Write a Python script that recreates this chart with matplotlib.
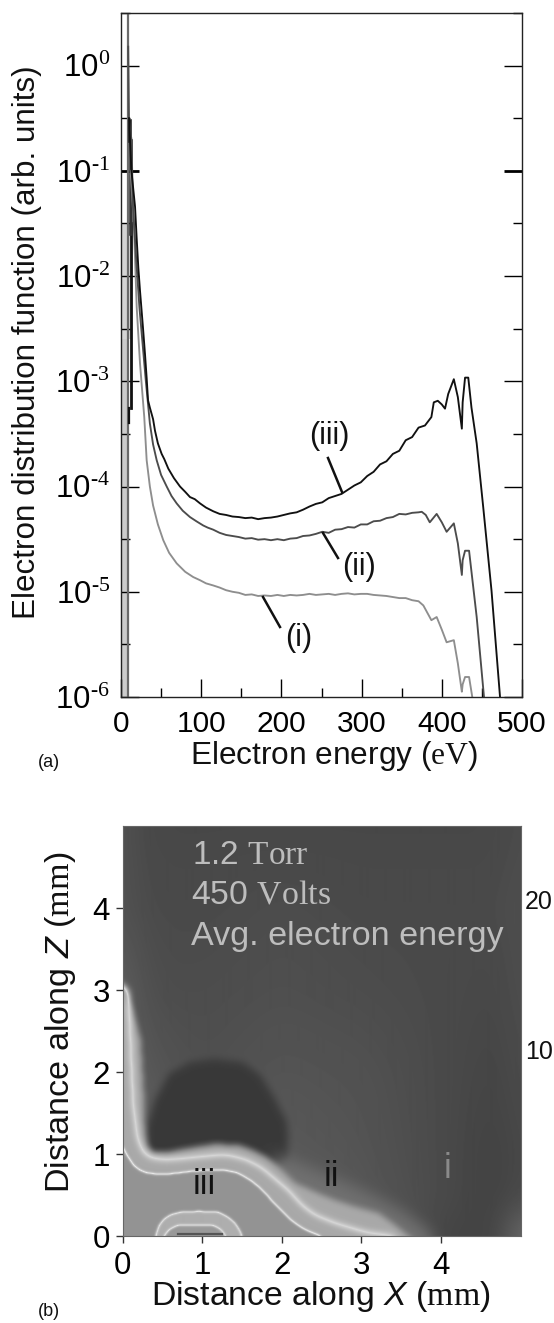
import numpy as np
import matplotlib
matplotlib.use("Agg")
import matplotlib.pyplot as plt
from matplotlib.path import Path
from matplotlib.lines import Line2D

plt.rcParams['font.family'] = ['Liberation Sans', 'DejaVu Sans']
plt.rcParams['mathtext.fontset'] = 'custom'
plt.rcParams['mathtext.rm'] = 'Liberation Serif'
plt.rcParams['mathtext.it'] = 'Liberation Sans:italic'
plt.rcParams['mathtext.sf'] = 'Liberation Sans'

W, H = 554, 1323

# panel (a): electron energy (eV) and log10 of the distribution function
mid_energy = [115, 123, 131, 139, 147, 155, 163, 171, 179, 187, 195, 203, 211, 219, 227, 235, 243, 251,
              259, 267, 275, 283, 291, 299, 307, 315, 323, 331, 339, 347, 355, 363, 371]

iii_head_e = [10, 13, 17.5, 19.6, 21.6, 23.7, 27.4, 30, 32, 33.7, 36, 40, 42.4, 46, 50.7, 54, 59, 66, 73.6,
              80, 86, 92, 98.5, 106]
iii_head_log = [-0.5, -1.0, -1.34, -1.65, -1.92, -2.14, -2.49, -2.75, -2.97, -3.18, -3.25, -3.36, -3.47, -3.59,
                -3.69, -3.74, -3.83, -3.92, -4.0, -4.05, -4.10, -4.12, -4.16, -4.2]
iii_mid_log = [-4.235, -4.26, -4.27, -4.285, -4.29, -4.30, -4.295, -4.31, -4.30, -4.295, -4.285, -4.27,
               -4.255, -4.245, -4.22, -4.19, -4.165, -4.15, -4.11, -4.09, -4.07, -4.03, -3.99, -3.96,
               -3.90, -3.86, -3.79, -3.76, -3.69, -3.66, -3.56, -3.53, -3.44]
iii_tail_e = [379, 387, 390, 395, 400, 404, 408, 415, 420, 425, 426, 429, 433, 437, 443.5, 451.7, 462, 472.6]
iii_tail_log = [-3.42, -3.34, -3.20, -3.185, -3.22, -3.26, -3.12, -2.98, -3.15, -3.45, -3.2, -2.965, -2.965,
                -3.25, -3.59, -4.20, -4.99, -6.0]

ii_head_e = [9, 10, 13, 15, 19, 23, 27, 31, 36, 40, 44.5, 50, 57, 63, 69.4, 77, 86, 94, 102.5, 108]
ii_head_log = [0.18, -0.53, -0.70, -1.35, -1.85, -2.3, -2.65, -3.0, -3.4, -3.6, -3.75, -3.89, -4.0, -4.09,
               -4.16, -4.23, -4.29, -4.33, -4.37, -4.39]
ii_mid_log = [-4.41, -4.44, -4.46, -4.47, -4.48, -4.495, -4.49, -4.505, -4.50, -4.51, -4.50, -4.51, -4.495,
              -4.49, -4.47, -4.465, -4.45, -4.43, -4.44, -4.41, -4.405, -4.385, -4.39, -4.36, -4.36,
              -4.33, -4.325, -4.30, -4.29, -4.26, -4.265, -4.25, -4.245]
ii_tail_e = [375, 380, 385, 393.6, 400, 406, 415, 420, 425, 426, 429, 434, 443.5, 452.6]
ii_tail_log = [-4.24, -4.27, -4.34, -4.26, -4.34, -4.43, -4.35, -4.54, -4.84, -4.7, -4.61, -4.61, -5.24, -6.0]

i_head_e = [12, 16, 19.6, 23.7, 29, 32, 36, 40, 46, 52.7, 60, 69.4, 80, 90, 98.5, 106]
i_head_log = [-1.0, -1.5, -2.3, -2.83, -3.34, -3.75, -4.0, -4.18, -4.36, -4.51, -4.63, -4.73, -4.81, -4.86,
              -4.89, -4.92]
i_mid_log = [-4.94, -4.96, -4.985, -5.00, -5.01, -5.03, -5.025, -5.04, -5.035, -5.04, -5.03, -5.04, -5.03,
             -5.035, -5.03, -5.02, -5.03, -5.025, -5.02, -5.03, -5.02, -5.015, -5.025, -5.02, -5.02,
             -5.03, -5.035, -5.04, -5.05, -5.06, -5.06, -5.08, -5.09]
i_tail_e = [377, 382, 387, 393.6, 400, 406, 415, 420, 425, 426, 429, 434, 438]
i_tail_log = [-5.13, -5.20, -5.27, -5.24, -5.36, -5.48, -5.46, -5.68, -5.95, -5.88, -5.81, -5.81, -6.0]

x_ticks_a = [0, 100, 200, 300, 400, 500]
y_exponents = [0, -1, -2, -3, -4, -5, -6]

# panel (b): region outlines in mm, grey levels 0-1
x_ticks_b = [0, 1, 2, 3, 4]
z_ticks_b = [0, 1, 2, 3, 4]
grid_x = [0.0, 0.15, 0.5, 1.0, 2.0, 3.0, 4.0, 4.6, 4.85, 5.0]
grid_z = [0.0, 0.5, 1.0, 2.0, 3.0, 4.0, 5.0]
grid_grey = [
    [0.50, 0.48, 0.46, 0.46, 0.46, 0.40, 0.27, 0.26, 0.34, 0.46],
    [0.50, 0.44, 0.40, 0.38, 0.40, 0.34, 0.29, 0.26, 0.27, 0.30],
    [0.42, 0.40, 0.36, 0.34, 0.35, 0.33, 0.29, 0.26, 0.27, 0.29],
    [0.38, 0.36, 0.33, 0.31, 0.33, 0.32, 0.29, 0.27, 0.28, 0.30],
    [0.38, 0.33, 0.30, 0.30, 0.31, 0.30, 0.29, 0.28, 0.29, 0.31],
    [0.33, 0.30, 0.29, 0.29, 0.30, 0.29, 0.29, 0.29, 0.30, 0.31],
    [0.33, 0.29, 0.28, 0.28, 0.28, 0.28, 0.28, 0.28, 0.29, 0.30],
]

outer_x = [-0.5, -0.5, 0.0, 0.12, 0.22, 0.26, 0.27, 0.30, 0.39, 0.6, 0.81, 1.14, 1.44, 1.65, 1.82, 2.0, 2.15,
           2.4, 2.65, 2.9, 3.2, 3.4, 3.49, 3.7, 3.8, -0.5]
outer_z = [-0.5, 3.3, 3.0, 2.75, 2.4, 1.7, 1.3, 1.1, 1.02, 1.03, 1.07, 1.12, 1.11, 1.04, 0.95, 0.8, 0.65,
           0.54, 0.44, 0.36, 0.28, 0.14, 0.07, -0.1, -0.5, -0.5]
inner_x = [-0.5, -0.5, 0.0, 0.06, 0.13, 0.2, 0.3, 0.45, 0.6, 0.85, 1.14, 1.3, 1.44, 1.6, 1.73, 1.85, 1.98,
           2.1, 2.23, 2.35, 2.48, 2.7, -0.5]
inner_z = [-0.5, 1.5, 1.09, 0.97, 0.87, 0.81, 0.77, 0.755, 0.76, 0.79, 0.81, 0.80, 0.77, 0.68, 0.58, 0.45, 0.32,
           0.2, 0.11, 0.05, 0.0, -0.5, -0.5]
crest_x = [-0.5, -0.5, 0.06, 0.09, 0.11, 0.13, 0.18, 0.25, 0.35, 0.55, 0.81, 1.1, 1.31, 1.55, 1.73, 1.9, 2.07,
           2.25, 2.4, 2.65, 2.85, 3.07, 3.4, 3.7, -0.5]
crest_z = [-0.5, 3.4, 3.0, 2.5, 2.0, 1.6, 1.2, 1.02, 0.95, 0.93, 0.95, 0.98, 0.99, 0.93, 0.84, 0.7, 0.56,
           0.37, 0.26, 0.16, 0.1, 0.04, 0.0, -0.5, -0.5]
halo_x = [1.9, 2.4, 3.0, 3.5, 3.85, 4.0, 1.9]
halo_z = [1.0, 0.8, 0.55, 0.3, 0.05, -0.5, -0.5]
blob_x = [0.30, 0.30, 0.40, 0.58, 0.85, 1.14, 1.5, 1.72, 1.90, 2.05, 2.07, 2.05, 1.64, 0.81]
blob_z = [0.9, 1.33, 1.66, 1.98, 2.12, 2.16, 2.12, 1.96, 1.68, 1.40, 1.20, 0.9, 0.8, 0.8]
ring_x = [0.41, 0.41, 0.45, 0.51, 0.6, 0.72, 0.95, 1.19, 1.3, 1.39, 1.45, 1.49, 1.49]
ring_z = [-0.5, 0.0, 0.12, 0.2, 0.26, 0.29, 0.30, 0.29, 0.24, 0.17, 0.09, 0.0, -0.5]
ring_inner_x = [0.51, 0.51, 0.58, 0.68, 0.9, 1.14, 1.23, 1.29, 1.29]
ring_inner_z = [-0.5, 0.0, 0.08, 0.13, 0.14, 0.13, 0.08, 0.0, -0.5]


def fig_xy(px, py):
    return px / W, 1 - py / H


def box_blur(a, n, passes=2):
    k = np.ones(n) / n
    for _ in range(passes):
        pad = np.pad(a, n, mode='edge')
        pad = np.apply_along_axis(lambda r: np.convolve(r, k, mode='same'), 0, pad)
        pad = np.apply_along_axis(lambda r: np.convolve(r, k, mode='same'), 1, pad)
        a = pad[n:-n, n:-n]
    return a


fig = plt.figure(figsize=(W / 100, H / 100), dpi=100)
fig.patch.set_facecolor('white')

# --- panel (a)
ax1 = fig.add_axes([121 / W, 1 - 697 / H, (522 - 121) / W, (697 - 13) / H])
ax1.set_xlim(0, 500)
ax1.set_yscale('log')
ax1.set_ylim(1e-6, 10 ** 0.483)

ax1.fill_betweenx([1e-6, 10 ** -2.6], 1, 8, color='#cccccc', lw=0)
ax1.fill_betweenx([10 ** -2.6, 10 ** -1.5], 1, 12, color='#d4d4d4', lw=0)
ax1.plot([8.5, 8.5], [1e-6, 10 ** 0.483], color='#6a6a6a', lw=1.6)
ax1.plot([12, 12], [10 ** -1.5, 10 ** -3.25], color='#111111', lw=2.0)
ax1.plot([10, 10], [10 ** -3.25, 10 ** -3.4], color='#111111', lw=1.6)
ax1.plot([11, 11], [10 ** -0.53, 10 ** -0.72], color='#222222', lw=2.6)
ax1.plot([13, 13], [10 ** -0.72, 10 ** -1.6], color='#333333', lw=2.6)

curves = [
    (i_head_e + mid_energy + i_tail_e, i_head_log + i_mid_log + i_tail_log, '#8e8e8e'),
    (ii_head_e + mid_energy + ii_tail_e, ii_head_log + ii_mid_log + ii_tail_log, '#4c4c4c'),
    (iii_head_e + mid_energy + iii_tail_e, iii_head_log + iii_mid_log + iii_tail_log, '#111111'),
]
for e, lg, c in curves:
    ax1.plot(e, 10.0 ** np.array(lg), color=c, lw=1.35)

ax1.set_xticks(x_ticks_a)
ax1.set_xticks([50, 150, 250, 350, 450], minor=True)
ax1.set_yticks([10.0 ** n for n in y_exponents])
ax1.set_yticklabels([r'10$^{\text{%d}}$' % n for n in y_exponents])
ax1.set_yticks([10 ** (n + 0.5) for n in [0, -1, -2, -3, -4, -5, -6]], minor=True)
ax1.yaxis.set_minor_formatter(plt.NullFormatter())
ax1.tick_params(axis='both', which='major', direction='in', length=13, width=1)
ax1.tick_params(axis='both', which='minor', direction='in', length=6.5, width=1)
ax1.tick_params(axis='y', which='both', left=True, right=True)
ax1.tick_params(axis='y', which='major', pad=8, labelsize=22.5)
ax1.tick_params(axis='x', which='major', pad=9, labelsize=21.5)
ax1.yaxis.get_major_ticks()[1].tick1line.set_markeredgewidth(2)
ax1.yaxis.get_major_ticks()[1].tick2line.set_markeredgewidth(2)
for s in ax1.spines.values():
    s.set_linewidth(1)
    s.set_color('#222222')

fig.text(*fig_xy(27, 342), 'Electron distribution function (arb. units)', rotation=90,
         ha='center', va='center', fontsize=22.6, color='#111111')
fig.text(*fig_xy(334, 756), r'Electron energy ($\mathrm{eV}$)', ha='center', va='center',
         fontsize=22.8, color='#111111')
fig.text(*fig_xy(49, 762), '(a)', ha='center', va='center', fontsize=13, color='#111111')

for label, tx, ty, x0, y0, x1, y1 in [
    ('(iii)', 329, 436, 328, 458, 342, 492),
    ('(ii)', 359, 567, 323, 533, 338, 558),
    ('(i)', 299, 638, 263, 597, 280, 627),
]:
    fig.text(*fig_xy(tx, ty), label, ha='center', va='center', fontsize=22, color='#111111')
    xa, ya = fig_xy(x0, y0)
    xb, yb = fig_xy(x1, y1)
    fig.add_artist(Line2D([xa, xb], [ya, yb], color='#111111', lw=1.8))

# --- panel (b)
ax2 = fig.add_axes([122.5 / W, 1 - 1236 / H, (520.7 - 122.5) / W, (1236 - 826) / H])
nx, nz = 400, 410
xs = (np.arange(nx) + 0.5) / nx * 5
zs = (np.arange(nz) + 0.5) / nz * 5
rows = np.array([np.interp(xs, grid_x, r) for r in grid_grey])
field = np.array([np.interp(zs, grid_z, rows[:, j]) for j in range(nx)]).T
field = box_blur(field, 31)


def soft_mask(px, pz, n, passes=2):
    # polygon outline -> smooth coverage mask on the image grid
    pad = 60
    gx = (np.arange(-pad, nx + pad) + 0.5) * 5 / nx
    gz = (np.arange(-pad, nz + pad) + 0.5) * 5 / nz
    gxx, gzz = np.meshgrid(gx, gz)
    inside = Path(np.column_stack([px, pz])).contains_points(np.column_stack([gxx.ravel(), gzz.ravel()]))
    m = box_blur(inside.reshape(gxx.shape).astype(float), n, passes)
    return np.clip(m[pad:-pad, pad:-pad], 0, 1)


def ridge(m):
    # peaks where the soft mask crosses one half, i.e. along the outline
    return np.clip(1 - np.abs(2 * m - 1), 0, 1)


def paint(f, m, level):
    return f * (1 - m) + level * m


field = paint(field, soft_mask(blob_x, blob_z, 9), 0.225)
field = paint(field, soft_mask(halo_x, halo_z, 17), 0.44)
field = paint(field, soft_mask(outer_x, outer_z, 7), 0.66)
field = paint(field, ridge(soft_mask(crest_x, crest_z, 11)) ** 1.5, 0.84)
field = paint(field, soft_mask(inner_x, inner_z, 3), 0.58)
field = paint(field, ridge(soft_mask(inner_x, inner_z, 5)) ** 2, 0.93)
field = paint(field, soft_mask(ring_x, ring_z, 3), 0.68)
field = paint(field, ridge(soft_mask(ring_x, ring_z, 5)) ** 2, 0.90)
field = paint(field, soft_mask(ring_inner_x, ring_inner_z, 3), 0.60)
field = paint(field, ridge(soft_mask(ring_inner_x, ring_inner_z, 5)) ** 2, 0.90)

ax2.imshow(field, extent=[0, 5, 0, 5], origin='lower', cmap='gray', vmin=0, vmax=1,
           aspect='auto', interpolation='bilinear')
ax2.plot([0.7, 1.25], [0.02, 0.02], color='#555555', lw=1.6)
ax2.set_xlim(0, 5)
ax2.set_ylim(0, 5)

ax2.set_xticks(x_ticks_b)
ax2.set_yticks(z_ticks_b)
ax2.tick_params(axis='both', direction='out', length=5, width=1, labelsize=22.5, color='#333333')
ax2.tick_params(axis='x', pad=6)
ax2.tick_params(axis='y', pad=4)
for s in ax2.spines.values():
    s.set_linewidth(0.8)
    s.set_color('#666666')

fig.text(*fig_xy(61, 1022), r'Distance along $\mathit{Z}$ ($\mathrm{mm}$)', rotation=90,
         ha='center', va='center', fontsize=24.6, color='#111111')
fig.text(*fig_xy(321, 1297), r'Distance along $\mathit{X}$ ($\mathrm{mm}$)', ha='center', va='center',
         fontsize=24.3, color='#111111')
fig.text(*fig_xy(49, 1311), '(b)', ha='center', va='center', fontsize=13, color='#111111')

pale = '#bdbdbd'
fig.text(*fig_xy(192, 855), r'1.2 $\mathrm{Torr}$', ha='left', va='center', fontsize=24, color=pale)
fig.text(*fig_xy(191, 895), r'450 $\mathrm{Volts}$', ha='left', va='center', fontsize=24.4, color=pale)
fig.text(*fig_xy(191, 936), 'Avg. electron energy', ha='left', va='center', fontsize=24.6, color=pale)
fig.text(*fig_xy(204, 1185), 'iii', ha='center', va='center', fontsize=25, color='#111111')
fig.text(*fig_xy(331, 1177), 'ii', ha='center', va='center', fontsize=25, color='#111111')
fig.text(*fig_xy(447, 1169), 'i', ha='center', va='center', fontsize=25, color='#8a8a8a')
fig.text(*fig_xy(525, 902), '20', ha='left', va='center', fontsize=18, color='#111111')
fig.text(*fig_xy(525, 1052), '10', ha='left', va='center', fontsize=18, color='#111111')

fig.savefig('out.png', dpi=100)
